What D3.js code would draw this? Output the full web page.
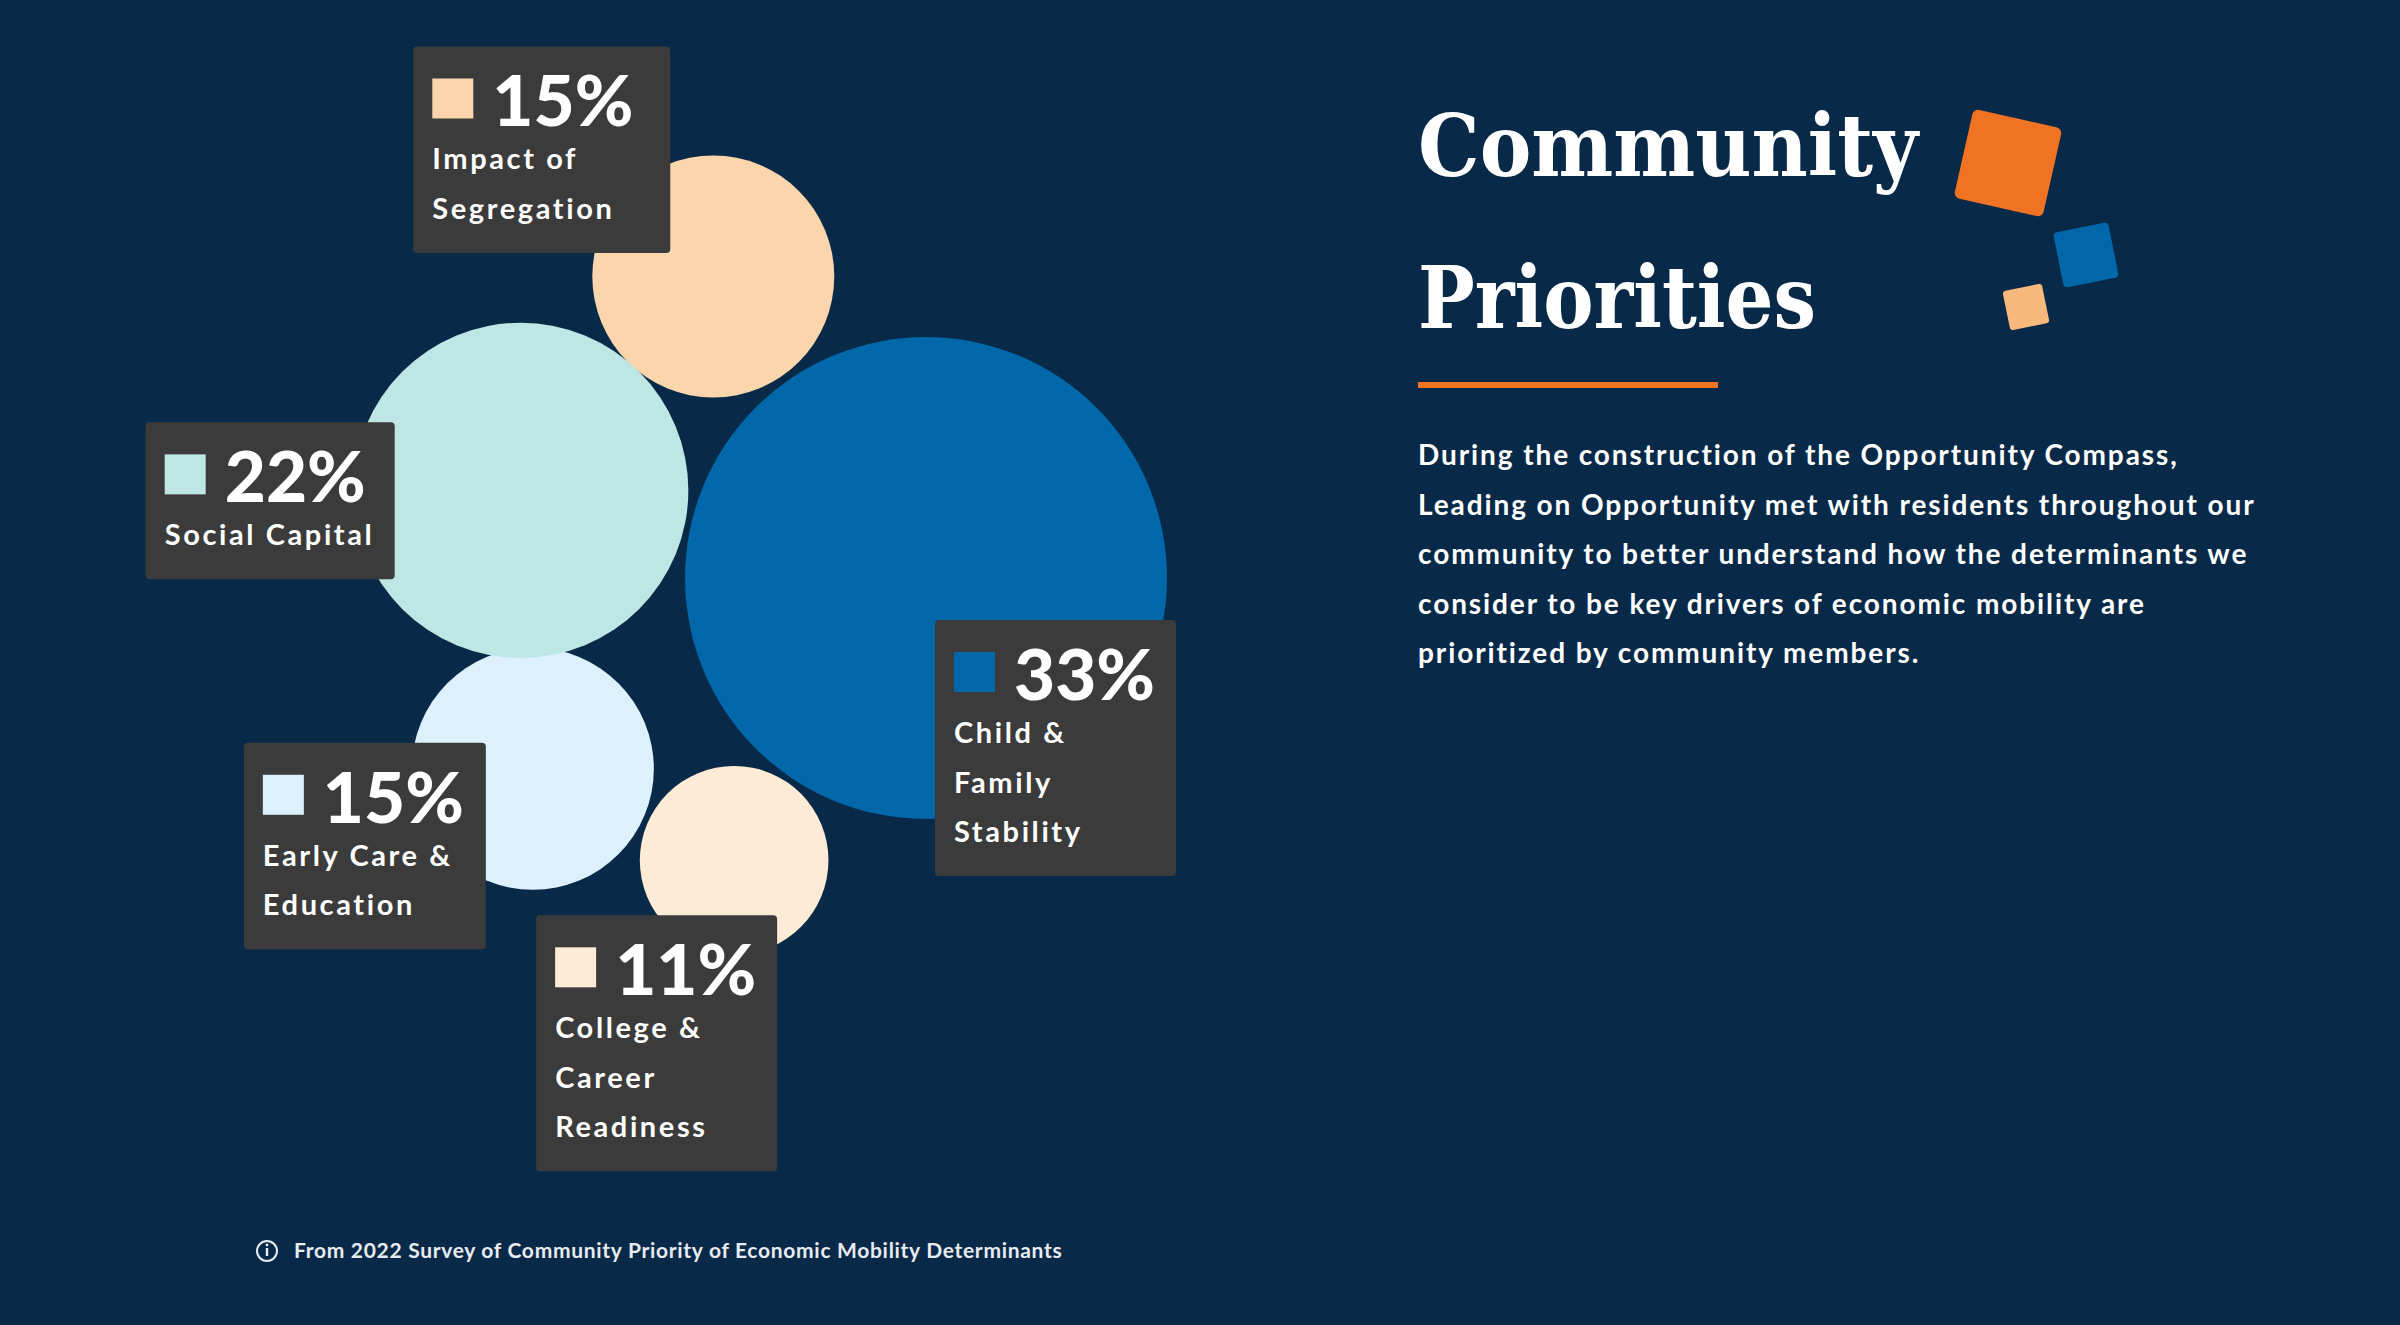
<!DOCTYPE html>
<html>
<head>
<meta charset="utf-8">
<script src="https://cdn.jsdelivr.net/npm/d3@7"></script>
<style>
  body { margin: 0; background: #082a48; }
  svg { display: block; }
</style>
</head>
<body>
<div id="chart"></div>
<script>
// data
const categories = ["Impact of Segregation", "Social Capital", "Child & Family Stability", "Early Care & Education", "College & Career Readiness"];
const shares = [15, 22, 33, 15, 11];
const labelLines = [
    ["Impact of", "Segregation"],
    ["Social Capital"],
    ["Child &", "Family", "Stability"],
    ["Early Care &", "Education"],
    ["College &", "Career", "Readiness"]
];
const titleLines = ["Community", "Priorities"];
const blurbLines = [
    "During the construction of the Opportunity Compass,",
    "Leading on Opportunity met with residents throughout our",
    "community to better understand how the determinants we",
    "consider to be key drivers of economic mobility are",
    "prioritized by community members."
];
const sourceNote = "From 2022 Survey of Community Priority of Economic Mobility Determinants";

const W = 2400, H = 1325;

const color = d3.scaleOrdinal()
    .domain(categories)
    .range(["#fbd5ab", "#bde6e4", "#0067a8", "#ddf0fd", "#feebd6"]);

// bubble radius grows with the share
const r = d3.scaleLinear().domain([0, 33]).range([21, 241]);

// layout: biggest bubble sits at the hub, others are set around an anchor bubble
const hub = { x: 926, y: 578 };
const placement = [
    { anchor: 2, angle: -125.2, gap: 7, box: [-300, -230], w: 257 },
    { anchor: 2, angle: -167.8, gap: 6, box: [-375, -68], w: 249 },
    { anchor: null, angle: 0, gap: 0, box: [9, 42], w: 241 },
    { anchor: 1, angle: 87.5, gap: -10, box: [-289, -26], w: 242 },
    { anchor: 2, angle: 124.2, gap: 6, box: [-198, 55], w: 241 }
];

const nodes = categories.map((c, i) => ({ name: c, value: shares[i], r: r(shares[i]), lines: labelLines[i], i }));
nodes[2].x = hub.x; nodes[2].y = hub.y;
[0, 1, 4, 3].forEach(i => {
    const p = placement[i], a = nodes[p.anchor], n = nodes[i];
    const d = a.r + n.r + p.gap, t = p.angle * Math.PI / 180;
    n.x = a.x + d * Math.cos(t);
    n.y = a.y + d * Math.sin(t);
});

const svg = d3.select("#chart").append("svg")
    .attr("width", W).attr("height", H)
    .attr("viewBox", `0 0 ${W} ${H}`);

svg.append("rect").attr("width", W).attr("height", H).attr("fill", "#082a48");

// bubbles
svg.append("g").selectAll("circle")
    .data([3, 0, 1, 2, 4].map(i => nodes[i]))
    .join("circle")
    .attr("cx", d => d.x)
    .attr("cy", d => d.y)
    .attr("r", d => d.r)
    .attr("fill", d => color(d.name));

// label boxes
const lineH = 49.5;
const box = svg.append("g").selectAll("g")
    .data(nodes)
    .join("g")
    .attr("transform", d => `translate(${d.x + placement[d.i].box[0]},${d.y + placement[d.i].box[1]})`);

box.append("rect")
    .attr("width", d => placement[d.i].w)
    .attr("height", d => 157 + lineH * (d.lines.length - 1))
    .attr("rx", 4)
    .attr("fill", "#3b3b3b");

box.append("rect")
    .attr("x", 19).attr("y", 32)
    .attr("width", 41).attr("height", 40)
    .attr("fill", d => color(d.name));

box.append("text")
    .attr("x", 79).attr("y", 80)
    .attr("fill", "#fff")
    .attr("font-family", "Lato, sans-serif")
    .attr("font-weight", 900)
    .attr("font-size", 71)
    .text(d => d.value + "%");

box.append("text")
    .attr("fill", "#fff")
    .attr("font-family", "Lato, sans-serif")
    .attr("font-weight", 700)
    .attr("font-size", 29)
    .attr("letter-spacing", 2.6)
    .selectAll("tspan")
    .data(d => d.lines)
    .join("tspan")
    .attr("x", 19)
    .attr("y", (d, j) => 123 + j * lineH)
    .text(d => d);

// title block
const title = svg.append("g").attr("transform", "translate(1418,0)");
title.selectAll("text")
    .data(titleLines)
    .join("text")
    .attr("x", 0)
    .attr("y", (d, i) => 176 + i * 152)
    .attr("fill", "#fff")
    .attr("font-family", "DejaVu Serif, serif")
    .attr("font-weight", 700)
    .attr("font-size", 86)
    .attr("textLength", (d, i) => i === 0 ? 500 : 398)
    .attr("lengthAdjust", "spacingAndGlyphs")
    .text(d => d);

title.append("rect")
    .attr("x", 0).attr("y", 382)
    .attr("width", 300).attr("height", 6)
    .attr("fill", "#f07223");

title.append("text")
    .attr("fill", "#fff")
    .attr("font-family", "Lato, sans-serif")
    .attr("font-weight", 700)
    .attr("font-size", 28)
    .attr("letter-spacing", 1.9)
    .selectAll("tspan")
    .data(blurbLines)
    .join("tspan")
    .attr("x", 0)
    .attr("y", (d, i) => 465 + i * 49.5)
    .text(d => d);

// decorative tiles
const tiles = [
    { cx: 2008, cy: 163, s: 91, rot: 12.7, fill: "#f07223", rx: 6 },
    { cx: 2086, cy: 255, s: 56, rot: -11.3, fill: "#0067a8", rx: 4 },
    { cx: 2026, cy: 307, s: 40, rot: -11.6, fill: "#f8b97c", rx: 3 }
];
svg.append("g").selectAll("rect")
    .data(tiles)
    .join("rect")
    .attr("x", d => -d.s / 2).attr("y", d => -d.s / 2)
    .attr("width", d => d.s).attr("height", d => d.s)
    .attr("rx", d => d.rx)
    .attr("fill", d => d.fill)
    .attr("transform", d => `translate(${d.cx},${d.cy}) rotate(${d.rot})`);

// source note
const note = svg.append("g").attr("transform", "translate(267,1251)");
note.append("circle").attr("r", 10).attr("fill", "none").attr("stroke", "#e8ecf1").attr("stroke-width", 2);
note.append("rect").attr("x", -1.2).attr("y", -3).attr("width", 2.4).attr("height", 8).attr("fill", "#e8ecf1");
note.append("circle").attr("cy", -6).attr("r", 1.4).attr("fill", "#e8ecf1");
note.append("text")
    .attr("x", 27).attr("y", 7)
    .attr("fill", "#e8ecf1")
    .attr("font-family", "Lato, sans-serif")
    .attr("font-weight", 700)
    .attr("font-size", 21)
    .attr("letter-spacing", 0.7)
    .text(sourceNote);
</script>
</body>
</html>
